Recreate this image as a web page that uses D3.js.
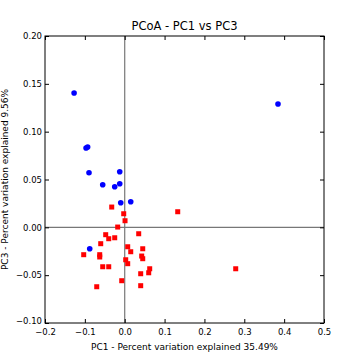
<!DOCTYPE html>
<html><head><meta charset="utf-8">
<script src="https://cdn.jsdelivr.net/npm/d3@7"></script>
<style>body{margin:0;background:#fff}svg{display:block}text{font-family:"DejaVu Sans",sans-serif;fill:#000}</style>
</head><body>
<script>
const xTicks=[-0.2,-0.1,0.0,0.1,0.2,0.3,0.4,0.5];
const yTicks=[-0.10,-0.05,0.00,0.05,0.10,0.15,0.20];
const blueX=[-0.127,-0.097,-0.093,-0.0896,-0.0125,-0.0552,-0.0125,-0.0251,-0.0100,0.0151,-0.0878,0.3846];
const blueY=[0.1404,0.0829,0.0839,0.0571,0.0581,0.0445,0.0456,0.0424,0.0257,0.0268,-0.0224,0.1289];
const redX=[-0.0326,-0.0025,0.0008,-0.0176,0.133,-0.0477,-0.0401,-0.0251,0.0351,-0.0602,0.0075,0.0452,0.0151,-0.1029,-0.0627,-0.0627,0.0426,0.0452,0.0025,0.0075,-0.0552,-0.0401,0.0627,0.0602,0.0401,-0.0075,-0.0702,0.0401,0.2785];
const redY=[0.0212,0.0142,0.0069,0.0003,0.0163,-0.0077,-0.0119,-0.0109,-0.0067,-0.0171,-0.0203,-0.0224,-0.0255,-0.0286,-0.0286,-0.0310,-0.0300,-0.0328,-0.0339,-0.0380,-0.0412,-0.0412,-0.0433,-0.0475,-0.0485,-0.0558,-0.0621,-0.0610,-0.0433];
const title="PCoA - PC1 vs PC3";
const xLabel="PC1 - Percent variation explained 35.49%";
const yLabel="PC3 - Percent variation explained 9.56%";

const W=360,H=360,L=45,R=324,T=36,B=323;
const svg=d3.select("body").append("svg").attr("width",W).attr("height",H);
const x=d3.scaleLinear().domain([-0.2,0.5]).range([L,R]);
const y=d3.scaleLinear().domain([-0.1,0.2]).range([B,T]);

// zero lines
svg.append("line").attr("x1",x(0)).attr("x2",x(0)).attr("y1",T).attr("y2",B).attr("stroke","#777").attr("stroke-width",1.2);
svg.append("line").attr("x1",L).attr("x2",R).attr("y1",y(0)).attr("y2",y(0)).attr("stroke","#777").attr("stroke-width",1.2);

const fmtX=d=>d3.format(".1f")(d).replace("-","\u2212");
const fmtY=d=>d3.format(".2f")(d).replace("-","\u2212");
const ax=(g)=>{g.select(".domain").remove();g.selectAll(".tick line").attr("stroke","#000");g.selectAll(".tick text").style("font-size","8.5px");};
svg.append("g").attr("transform",`translate(0,${B})`).call(d3.axisBottom(x).tickValues(xTicks).tickFormat(fmtX).tickSizeInner(-4).tickPadding(5.5)).call(ax);
svg.append("g").attr("transform",`translate(0,${T})`).call(d3.axisTop(x).tickValues(xTicks).tickFormat("").tickSizeInner(-4)).call(ax);
const yg=svg.append("g").attr("transform",`translate(${L},0)`).call(d3.axisLeft(y).tickValues(yTicks).tickFormat(fmtY).tickSizeInner(-4).tickPadding(3)).call(ax);
yg.selectAll(".tick text").filter(d=>d===-0.10).attr("dy","0.1em");
svg.append("g").attr("transform",`translate(${R},0)`).call(d3.axisRight(y).tickValues(yTicks).tickFormat("").tickSizeInner(-4)).call(ax);
svg.append("rect").attr("x",L).attr("y",T).attr("width",R-L).attr("height",B-T).attr("fill","none").attr("stroke","#000").attr("stroke-width",1);

// points
svg.append("g").selectAll("rect").data(redX.map((v,i)=>[v,redY[i]])).join("rect")
 .attr("x",d=>x(d[0])-2.5).attr("y",d=>y(d[1])-2.5).attr("width",5).attr("height",5).attr("fill","#ff0000");
svg.append("g").selectAll("circle").data(blueX.map((v,i)=>[v,blueY[i]])).join("circle")
 .attr("cx",d=>x(d[0])).attr("cy",d=>y(d[1])).attr("r",2.8).attr("fill","#0000ff");

svg.append("text").attr("x",(L+R)/2).attr("y",T-6).attr("text-anchor","middle").style("font-size","11.5px").text(title);
svg.append("text").attr("x",(L+R)/2).attr("y",350).attr("text-anchor","middle").style("font-size","9px").text(xLabel);
svg.append("text").attr("transform",`translate(5,${(T+B)/2}) rotate(-90)`).attr("text-anchor","middle").attr("dy","0.35em").style("font-size","9px").text(yLabel);
</script>
</body></html>
